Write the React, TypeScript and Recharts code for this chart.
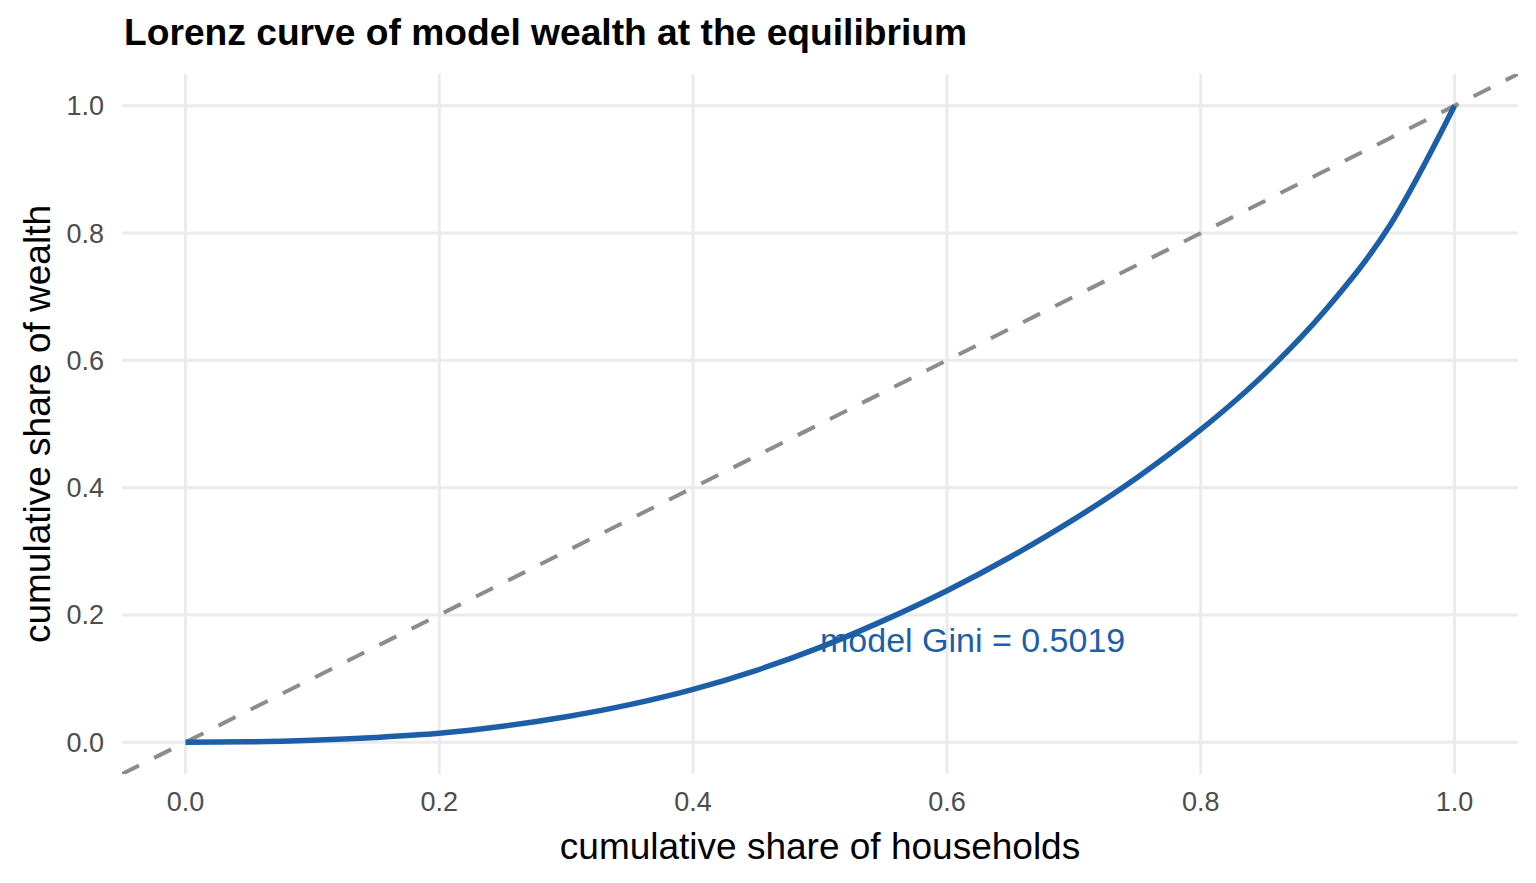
import React from 'react';
import {
  ComposedChart,
  Line,
  XAxis,
  YAxis,
  CartesianGrid,
  ReferenceDot,
  Label,
} from 'recharts';

// cumulative share of households (x) and of wealth (y)
const householdShare = [
  0, 0.05, 0.1, 0.15, 0.2, 0.25, 0.3, 0.35, 0.4, 0.45, 0.5,
  0.55, 0.6, 0.65, 0.7, 0.75, 0.8, 0.85, 0.9, 0.95, 1.0,
];
const wealthShare = [
  0, 0.0006, 0.003, 0.0075, 0.014, 0.025, 0.04, 0.059, 0.083, 0.113, 0.149,
  0.191, 0.238, 0.291, 0.35, 0.416, 0.491, 0.578, 0.683, 0.815, 1.0,
];

// 45 degree line of perfect equality, spanning the panel
const equalityEnds = [-0.05, 1.05];

const axisTicks = [0, 0.2, 0.4, 0.6, 0.8, 1.0];
const axisDomain = [-0.05, 1.05];

const giniText = 'model Gini = 0.5019';
const giniX = 0.5;
const giniY = 0.16;

const FONT = '"Liberation Sans", Arial, Helvetica, sans-serif';
const BLUE = '#1c5fa8';

const lorenzData = householdShare.map((x, i) => ({ x, y: wealthShare[i] }));
const equalityData = equalityEnds.map((v) => ({ x: v, y: v }));

const XTitle = (props: any) => {
  const vb = props.viewBox || { x: 122, y: 774, width: 1396, height: 109 };
  return (
    <text
      x={vb.x + vb.width / 2}
      y={vb.y + vb.height - 24}
      textAnchor="middle"
      fontSize={37}
      fontFamily={FONT}
      fill="#000"
    >
      cumulative share of households
    </text>
  );
};

const YTitle = (props: any) => {
  const vb = props.viewBox || { x: 0, y: 74, width: 122, height: 700 };
  const cx = vb.x + 37;
  const cy = vb.y + vb.height / 2;
  return (
    <text
      x={cx}
      y={cy}
      dy="0.35em"
      transform={`rotate(-90 ${cx} ${cy})`}
      textAnchor="middle"
      fontSize={37}
      fontFamily={FONT}
      fill="#000"
    >
      cumulative share of wealth
    </text>
  );
};

const GiniLabel = (props: any) => {
  const vb = props.viewBox || { x: 820, y: 641 };
  return (
    <text
      x={vb.x}
      y={vb.y}
      dy="0.35em"
      textAnchor="start"
      fontSize={34}
      fontFamily={FONT}
      fill={BLUE}
    >
      {giniText}
    </text>
  );
};

const tickStyle = { fill: '#4d4d4d', fontSize: 27, fontFamily: FONT };

export default function App() {
  return (
    <div style={{ position: 'relative', width: 1536, height: 883, background: '#fff' }}>
      <style>{'body{margin:0}'}</style>
      <div
        style={{
          position: 'absolute',
          left: 124,
          top: 12,
          fontFamily: FONT,
          fontWeight: 'bold',
          fontSize: 37.2,
          lineHeight: '40px',
          color: '#000',
          whiteSpace: 'nowrap',
        }}
      >
        Lorenz curve of model wealth at the equilibrium
      </div>
      <ComposedChart
        width={1536}
        height={883}
        margin={{ top: 74, right: 18, bottom: 0, left: 0 }}
      >
        <CartesianGrid syncWithTicks stroke="#ebebeb" strokeWidth={3} />
        <XAxis
          type="number"
          dataKey="x"
          domain={axisDomain}
          ticks={axisTicks}
          interval={0}
          allowDataOverflow
          tickFormatter={(v: number) => v.toFixed(1)}
          axisLine={false}
          tickLine={false}
          tickSize={0}
          tickMargin={18}
          height={109}
          tick={tickStyle}
        >
          <Label content={XTitle} />
        </XAxis>
        <YAxis
          type="number"
          dataKey="y"
          domain={axisDomain}
          ticks={axisTicks}
          interval={0}
          allowDataOverflow
          tickFormatter={(v: number) => v.toFixed(1)}
          axisLine={false}
          tickLine={false}
          tickSize={0}
          tickMargin={18}
          width={122}
          tick={tickStyle}
        >
          <Label content={YTitle} />
        </YAxis>
        <Line
          data={equalityData}
          dataKey="y"
          type="linear"
          stroke="#8c8c8c"
          strokeWidth={4}
          strokeDasharray="19 17"
          dot={false}
          activeDot={false}
          isAnimationActive={false}
        />
        <Line
          data={lorenzData}
          dataKey="y"
          type="monotone"
          stroke={BLUE}
          strokeWidth={5.5}
          dot={false}
          activeDot={false}
          isAnimationActive={false}
        />
        <ReferenceDot
          x={giniX}
          y={giniY}
          r={0}
          fill="none"
          stroke="none"
          label={<GiniLabel />}
        />
      </ComposedChart>
    </div>
  );
}
